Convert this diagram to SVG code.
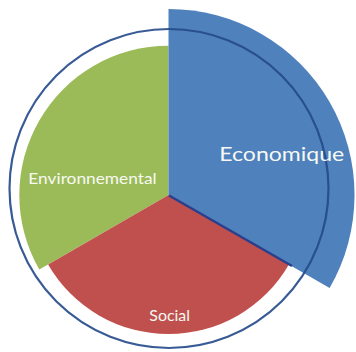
<svg xmlns="http://www.w3.org/2000/svg" width="356" height="352" viewBox="0 0 356 352">
  <style>
    .lbl { font-family: Lato, "Open Sans", "Liberation Sans", sans-serif; fill: #f7f9f2; text-anchor: start; }
    .ring { fill: none; stroke: #24498a; stroke-width: 2.2; opacity: 0.9; }
  </style>
  <rect x="0" y="0" width="356" height="352" fill="#ffffff"/>
  <g id="environnemental">
    <path d="M168.5,195 L39.3,269.6 A149.3,149.3 0 0 1 168.5,45.7 Z" fill="#9bbb59"/>
  </g>
  <g id="social">
    <path d="M168.5,195 L288.9,264.5 A139,139 0 0 1 48.1,264.5 Z" fill="#c0504d"/>
  </g>
  <g id="economique">
    <path d="M168.5,195 L168.5,9 A186,186 0 0 1 329.6,288 Z" fill="#4f81bd"/>
    <line x1="169" y1="195.5" x2="292" y2="266" stroke="#2b3f8c" stroke-width="2.5"/>
  </g>
  <g id="connectors"></g>
  <circle class="ring" cx="169" cy="188.5" r="159.5"/>
  <text class="lbl" x="28.3" y="184.3" font-size="16" textLength="128.4" lengthAdjust="spacingAndGlyphs">Environnemental</text>
  <text class="lbl" x="219.3" y="161" font-size="18.5" textLength="125" lengthAdjust="spacingAndGlyphs">Economique</text>
  <text class="lbl" x="149.3" y="320.7" font-size="15" textLength="40.7" lengthAdjust="spacingAndGlyphs">Social</text>
</svg>
